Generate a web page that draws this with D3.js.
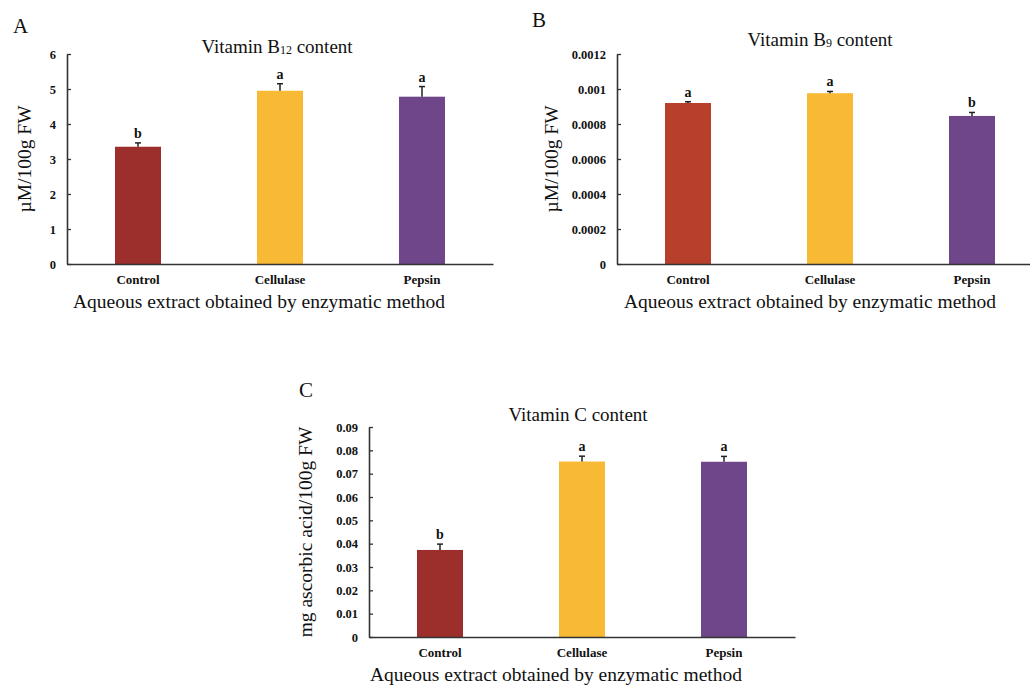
<!DOCTYPE html>
<html>
<head>
<meta charset="utf-8">
<script src="https://cdn.jsdelivr.net/npm/d3@7"></script>
<style>
  body { margin: 0; background: #fff; }
  svg { display: block; font-family: "Liberation Serif", "Times New Roman", serif; }
</style>
</head>
<body>
<div id="chart"></div>
<script>
// data
let categories = ["Control", "Cellulase", "Pepsin"];

let b12Values = [3.35, 4.95, 4.78];
let b12Errors = [0.11, 0.20, 0.29];
let b12Letters = ["b", "a", "a"];
let b12Ticks = [0, 1, 2, 3, 4, 5, 6];

let b9Values = [0.00092, 0.000976, 0.000846];
let b9Errors = [0.000007, 0.00001, 0.00002];
let b9Letters = ["a", "a", "b"];
let b9Ticks = [0, 0.0002, 0.0004, 0.0006, 0.0008, 0.001, 0.0012];

let vcValues = [0.0373, 0.0752, 0.0751];
let vcErrors = [0.0025, 0.0023, 0.0023];
let vcLetters = ["b", "a", "a"];
let vcTicks = [0, 0.01, 0.02, 0.03, 0.04, 0.05, 0.06, 0.07, 0.08, 0.09];

let svg = d3.select("#chart").append("svg")
    .attr("width", 1030)
    .attr("height", 687);

function drawPanel(p) {
  let x = d3.scaleBand()
      .domain(categories)
      .range([p.left, p.left + 426])
      .paddingInner(0.676)
      .paddingOuter(0.338);

  let y = d3.scaleLinear()
      .domain([0, p.ticks[p.ticks.length - 1]])
      .range([p.bottom, p.top]);

  let g = svg.append("g");

  // bars
  g.selectAll(".bar")
      .data(p.values)
    .enter().append("rect")
      .attr("class", "bar")
      .attr("x", (d, i) => x(categories[i]))
      .attr("width", x.bandwidth())
      .attr("y", d => y(d))
      .attr("height", d => y(0) - y(d))
      .style("fill", (d, i) => p.colors[i]);

  // error bars (upper half only)
  let cx = i => x(categories[i]) + x.bandwidth() / 2;
  g.selectAll(".err")
      .data(p.values)
    .enter().append("line")
      .attr("x1", (d, i) => cx(i)).attr("x2", (d, i) => cx(i))
      .attr("y1", d => y(d))
      .attr("y2", (d, i) => y(d + p.errors[i]))
      .attr("stroke", "#222").attr("stroke-width", 1.5);
  g.selectAll(".cap")
      .data(p.values)
    .enter().append("line")
      .attr("x1", (d, i) => cx(i) - 3).attr("x2", (d, i) => cx(i) + 3)
      .attr("y1", (d, i) => y(d + p.errors[i]))
      .attr("y2", (d, i) => y(d + p.errors[i]))
      .attr("stroke", "#222").attr("stroke-width", 1.5);

  // significance letters
  g.selectAll(".sig")
      .data(p.values)
    .enter().append("text")
      .attr("x", (d, i) => cx(i))
      .attr("y", (d, i) => y(d + p.errors[i]) - 5)
      .attr("text-anchor", "middle")
      .attr("font-weight", "bold")
      .attr("font-size", 14)
      .attr("fill", "#111")
      .text((d, i) => p.letters[i]);

  // y axis
  let ya = g.append("g")
      .attr("transform", "translate(" + p.left + ",0)")
      .call(d3.axisLeft(y)
        .tickValues(p.ticks)
        .tickFormat(d => String(+d.toFixed(6)))
        .tickSizeInner(-4)
        .tickSizeOuter(0)
        .tickPadding(11));
  ya.selectAll("text").attr("font-size", 12.5).attr("font-weight", "bold")
      .attr("font-family", "Liberation Serif").attr("fill", "#111");

  // x axis
  let xa = g.append("g")
      .attr("transform", "translate(0," + p.bottom + ")")
      .call(d3.axisBottom(x).tickSize(0).tickPadding(11));
  xa.selectAll("text").attr("font-size", 13).attr("font-weight", "bold")
      .attr("font-family", "Liberation Serif").attr("fill", "#111");

  [ya, xa].forEach(a => {
    a.select(".domain").attr("stroke", "#333").attr("stroke-width", 1.6);
    a.selectAll(".tick line").attr("stroke", "#333").attr("stroke-width", 1.3);
  });

  // title
  let t = g.append("text")
      .attr("x", p.titleX).attr("y", p.top + p.titleDy)
      .attr("text-anchor", "middle")
      .attr("font-size", 19).attr("fill", "#111");
  t.append("tspan").text(p.title[0]);
  if (p.title[1]) {
    t.append("tspan").attr("font-size", 12).attr("dy", 1).text(p.title[1]);
    t.append("tspan").attr("dy", -1).text(p.title[2]);
  }

  // axis titles
  g.append("text")
      .attr("transform", "translate(" + p.yLabelX + "," + ((p.top + p.bottom) / 2) + ") rotate(-90)")
      .attr("text-anchor", "middle")
      .attr("font-size", 19.5).attr("fill", "#111")
      .text(p.yLabel);

  g.append("text")
      .attr("x", p.xLabelX).attr("y", p.bottom + 44)
      .attr("text-anchor", "middle")
      .attr("font-size", 19.5).attr("fill", "#111")
      .text("Aqueous extract obtained by enzymatic method");

  // panel letter
  g.append("text")
      .attr("x", p.tagX).attr("y", p.tagY)
      .attr("font-size", 21).attr("fill", "#111")
      .text(p.tag);
}

drawPanel({
  tag: "A", tagX: 13, tagY: 33,
  left: 67, top: 54, bottom: 264,
  values: b12Values, errors: b12Errors, letters: b12Letters, ticks: b12Ticks,
  colors: ["#9c2e2b", "#f8b934", "#6e4689"],
  title: ["Vitamin B", "12", " content"], titleX: 277, titleDy: -1,
  yLabel: "\u00b5M/100g FW", yLabelX: 31,
  xLabelX: 259
});

drawPanel({
  tag: "B", tagX: 532, tagY: 27,
  left: 617, top: 54, bottom: 264,
  values: b9Values, errors: b9Errors, letters: b9Letters, ticks: b9Ticks,
  colors: ["#b83f2c", "#f8b934", "#6e4689"],
  title: ["Vitamin B", "9", " content"], titleX: 820, titleDy: -8,
  yLabel: "\u00b5M/100g FW", yLabelX: 558,
  xLabelX: 810
});

drawPanel({
  tag: "C", tagX: 299, tagY: 397,
  left: 369, top: 427, bottom: 637,
  values: vcValues, errors: vcErrors, letters: vcLetters, ticks: vcTicks,
  colors: ["#9c2e2b", "#f8b934", "#6e4689"],
  title: ["Vitamin C content"], titleX: 578, titleDy: -6,
  yLabel: "mg ascorbic acid/100g FW", yLabelX: 312,
  xLabelX: 556
});
</script>
</body>
</html>
